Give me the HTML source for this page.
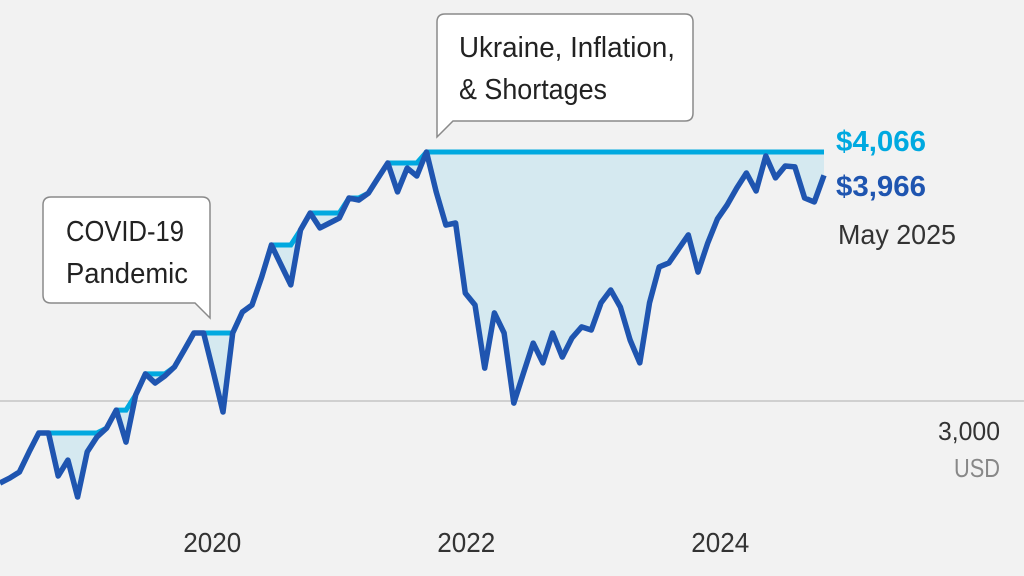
<!DOCTYPE html>
<html><head><meta charset="utf-8"><style>
html,body{margin:0;padding:0;background:#f2f2f2;}
svg{display:block;font-family:"Liberation Sans Narrow","Liberation Sans",sans-serif;}
</style></head><body>
<svg id="chart" width="1024" height="576" viewBox="0 0 1024 576" xmlns="http://www.w3.org/2000/svg">
<rect x="0" y="0" width="1024" height="576" fill="#f2f2f2"/>
<line x1="0" y1="401" x2="1024" y2="401" stroke="#c4c4c4" stroke-width="1.5"/>
<g id="marks"></g>
<text x="1000" y="440" text-anchor="end" font-size="26" fill="#333" textLength="62" lengthAdjust="spacingAndGlyphs">3,000</text>
<text x="1000" y="477" text-anchor="end" font-size="26" fill="#888" textLength="46" lengthAdjust="spacingAndGlyphs">USD</text>
<g id="xticks"></g>
<text x="836" y="151" font-size="29" font-weight="bold" fill="#00a9e0" textLength="90" lengthAdjust="spacingAndGlyphs">$4,066</text>
<text x="836" y="196" font-size="29" font-weight="bold" fill="#1f55b0" textLength="90" lengthAdjust="spacingAndGlyphs">$3,966</text>
<text x="838" y="244" font-size="28" fill="#333" textLength="118" lengthAdjust="spacingAndGlyphs">May 2025</text>
<g>
<path d="M445,14 H685 Q693,14 693,22 V113 Q693,121 685,121 H453 L437,137 V22 Q437,14 445,14 Z" fill="#fff" stroke="#8a8a8a" stroke-width="1.5"/>
<text x="459" y="57" font-size="29" fill="#222" textLength="216" lengthAdjust="spacingAndGlyphs">Ukraine, Inflation,</text>
<text x="459" y="99" font-size="29" fill="#222" textLength="148" lengthAdjust="spacingAndGlyphs">&amp; Shortages</text>
</g>
<g>
<path d="M51,197 H202 Q210,197 210,205 V318 L195,303 H51 Q43,303 43,295 V205 Q43,197 51,197 Z" fill="#fff" stroke="#8a8a8a" stroke-width="1.5"/>
<text x="66" y="241" font-size="29" fill="#222" textLength="118" lengthAdjust="spacingAndGlyphs">COVID-19</text>
<text x="66" y="283" font-size="29" fill="#222" textLength="122" lengthAdjust="spacingAndGlyphs">Pandemic</text>
</g>
</svg>
<script>
const values = [2649,2670,2696,2782,2863,2863,2679,2747,2589,2782,2846,2884,2961,2824,3026,3116,3077,3107,3146,3218,3291,3291,3124,2953,3291,3381,3411,3531,3668,3582,3497,3732,3805,3741,3762,3783,3869,3860,3890,3955,4019,3895,3997,3963,4066,3895,3753,3762,3462,3411,3141,3377,3291,2991,3120,3248,3163,3291,3188,3270,3317,3304,3420,3475,3402,3261,3163,3420,3574,3591,3651,3711,3552,3676,3779,3839,3912,3976,3899,4049,3955,4006,4002,3869,3852,3966];
const yearLabels = ['2020','2022','2024'];
const yearIndex = [21.9,48.1,74.3];

const N = values.length;
const xScale = i => i * 824 / (N - 1);
const yScale = v => 401 - (v - 3000) * 0.2336;
const NS = 'http://www.w3.org/2000/svg';
const marks = document.getElementById('marks');

let runMax = [];
let m = -Infinity;
for (const v of values) { m = Math.max(m, v); runMax.push(m); }

let maxPts = runMax.map((v,i)=>xScale(i).toFixed(1)+','+yScale(v).toFixed(1));
let valPts = values.map((v,i)=>xScale(i).toFixed(1)+','+yScale(v).toFixed(1));

const area = document.createElementNS(NS,'polygon');


area.setAttribute('points', maxPts.concat(valPts.slice().reverse()).join(' '));
area.setAttribute('fill', '#d5e9f0');
marks.appendChild(area);

const maxLine = document.createElementNS(NS,'polyline');


maxLine.setAttribute('points', maxPts.join(' '));
maxLine.setAttribute('fill', 'none');
maxLine.setAttribute('stroke', '#00a9e0');
maxLine.setAttribute('stroke-width', '5');
marks.appendChild(maxLine);

const line = document.createElementNS(NS,'polyline');


line.setAttribute('points', valPts.join(' '));
line.setAttribute('fill', 'none');
line.setAttribute('stroke', '#1f55b0');
line.setAttribute('stroke-width', '5.5');
line.setAttribute('stroke-linejoin', 'round');
marks.appendChild(line);

const xt = document.getElementById('xticks');
yearLabels.forEach((lab,k)=>{
  const t = document.createElementNS(NS,'text');
  
  
  t.setAttribute('x', xScale(yearIndex[k]));
  t.setAttribute('y', 552);
  t.setAttribute('text-anchor', 'middle');
  t.setAttribute('font-size', '28');
  t.setAttribute('fill', '#333');
  t.setAttribute('textLength', '58');
  t.setAttribute('lengthAdjust', 'spacingAndGlyphs');
  t.textContent = lab;
  xt.appendChild(t);
});
</script>
</body></html>
